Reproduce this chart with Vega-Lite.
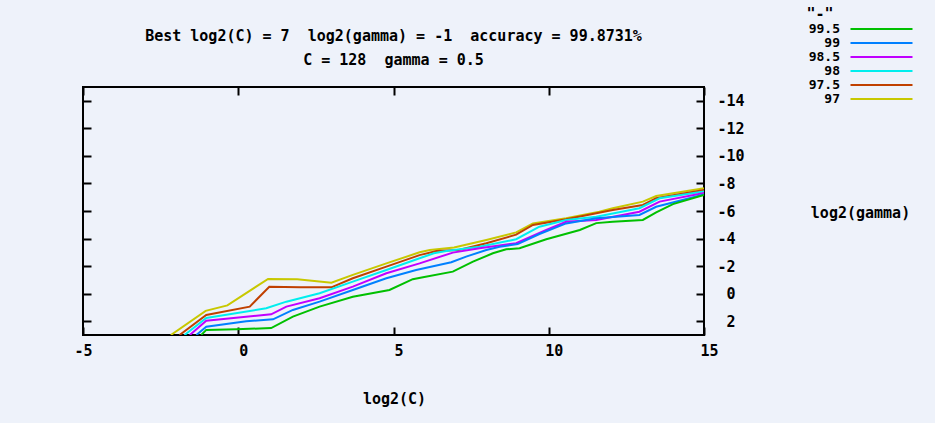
{
  "$schema": "https://vega.github.io/schema/vega-lite/v6.json",
  "width": 621,
  "height": 248,
  "autosize": {"type": "none"},
  "padding": {"left": 83, "top": 87, "right": 231, "bottom": 88},
  "background": "#eef2fa",
  "config": {
    "view": {"stroke": "#000000", "strokeWidth": 2},
    "font": "DejaVu Sans Mono"
  },
  "title": {
    "text": ["Best log2(C) = 7 \u00a0log2(gamma) = -1 \u00a0accuracy = 99.8731%", "C = 128 \u00a0gamma = 0.5"],
    "font": "DejaVu Sans Mono",
    "fontSize": 15,
    "fontWeight": "bold",
    "color": "#000000",
    "anchor": "middle",
    "lineHeight": 24,
    "offset": 20,
    "dy": 81.5
  },
  "data": {
    "values": [
      {"level": "97", "log2C": -2.17, "log2gamma": 3},
      {"level": "97", "log2C": -1.05, "log2gamma": 1.25},
      {"level": "97", "log2C": -0.35, "log2gamma": 0.85},
      {"level": "97", "log2C": 0.96, "log2gamma": -1.07},
      {"level": "97", "log2C": 1.9, "log2gamma": -1.05},
      {"level": "97", "log2C": 3.0, "log2gamma": -0.8},
      {"level": "97", "log2C": 3.69, "log2gamma": -1.36},
      {"level": "97", "log2C": 4.77, "log2gamma": -2.2},
      {"level": "97", "log2C": 5.84, "log2gamma": -3.0},
      {"level": "97", "log2C": 6.17, "log2gamma": -3.17},
      {"level": "97", "log2C": 6.95, "log2gamma": -3.35},
      {"level": "97", "log2C": 7.99, "log2gamma": -3.9},
      {"level": "97", "log2C": 8.95, "log2gamma": -4.45},
      {"level": "97", "log2C": 9.49, "log2gamma": -5.1},
      {"level": "97", "log2C": 10.56, "log2gamma": -5.47},
      {"level": "97", "log2C": 11.63, "log2gamma": -5.95},
      {"level": "97", "log2C": 12.06, "log2gamma": -6.2},
      {"level": "97", "log2C": 13.03, "log2gamma": -6.68},
      {"level": "97", "log2C": 13.46, "log2gamma": -7.09},
      {"level": "97", "log2C": 15, "log2gamma": -7.65},

      {"level": "97.5", "log2C": -1.89, "log2gamma": 3},
      {"level": "97.5", "log2C": -1.03, "log2gamma": 1.55},
      {"level": "97.5", "log2C": 0.37, "log2gamma": 0.94},
      {"level": "97.5", "log2C": 1.0, "log2gamma": -0.5},
      {"level": "97.5", "log2C": 2.0, "log2gamma": -0.46},
      {"level": "97.5", "log2C": 3.0, "log2gamma": -0.46},
      {"level": "97.5", "log2C": 3.69, "log2gamma": -1.12},
      {"level": "97.5", "log2C": 4.77, "log2gamma": -1.96},
      {"level": "97.5", "log2C": 5.84, "log2gamma": -2.8},
      {"level": "97.5", "log2C": 6.38, "log2gamma": -3.1},
      {"level": "97.5", "log2C": 7.1, "log2gamma": -3.17},
      {"level": "97.5", "log2C": 7.99, "log2gamma": -3.66},
      {"level": "97.5", "log2C": 8.95, "log2gamma": -4.28},
      {"level": "97.5", "log2C": 9.49, "log2gamma": -4.99},
      {"level": "97.5", "log2C": 10.56, "log2gamma": -5.4},
      {"level": "97.5", "log2C": 12.06, "log2gamma": -6.07},
      {"level": "97.5", "log2C": 13.03, "log2gamma": -6.44},
      {"level": "97.5", "log2C": 13.46, "log2gamma": -6.92},
      {"level": "97.5", "log2C": 15, "log2gamma": -7.53},

      {"level": "98", "log2C": -1.73, "log2gamma": 3},
      {"level": "98", "log2C": -1.03, "log2gamma": 1.76},
      {"level": "98", "log2C": 0.9, "log2gamma": 1.06},
      {"level": "98", "log2C": 1.55, "log2gamma": 0.58},
      {"level": "98", "log2C": 2.62, "log2gamma": -0.03},
      {"level": "98", "log2C": 3.69, "log2gamma": -0.87},
      {"level": "98", "log2C": 4.77, "log2gamma": -1.72},
      {"level": "98", "log2C": 5.84, "log2gamma": -2.57},
      {"level": "98", "log2C": 6.3, "log2gamma": -2.93},
      {"level": "98", "log2C": 6.7, "log2gamma": -3.1},
      {"level": "98", "log2C": 7.77, "log2gamma": -3.41},
      {"level": "98", "log2C": 8.95, "log2gamma": -3.95},
      {"level": "98", "log2C": 9.7, "log2gamma": -4.86},
      {"level": "98", "log2C": 10.56, "log2gamma": -5.35},
      {"level": "98", "log2C": 11.53, "log2gamma": -5.59},
      {"level": "98", "log2C": 12.92, "log2gamma": -6.2},
      {"level": "98", "log2C": 13.57, "log2gamma": -6.92},
      {"level": "98", "log2C": 15, "log2gamma": -7.42},

      {"level": "98.5", "log2C": -1.56, "log2gamma": 3},
      {"level": "98.5", "log2C": -1.03, "log2gamma": 1.96},
      {"level": "98.5", "log2C": 1.06, "log2gamma": 1.5},
      {"level": "98.5", "log2C": 1.55, "log2gamma": 0.94},
      {"level": "98.5", "log2C": 2.62, "log2gamma": 0.33},
      {"level": "98.5", "log2C": 3.69, "log2gamma": -0.51},
      {"level": "98.5", "log2C": 4.77, "log2gamma": -1.48},
      {"level": "98.5", "log2C": 5.84, "log2gamma": -2.2},
      {"level": "98.5", "log2C": 6.91, "log2gamma": -2.98},
      {"level": "98.5", "log2C": 7.77, "log2gamma": -3.3},
      {"level": "98.5", "log2C": 8.95, "log2gamma": -3.66},
      {"level": "98.5", "log2C": 9.92, "log2gamma": -4.62},
      {"level": "98.5", "log2C": 10.56, "log2gamma": -5.22},
      {"level": "98.5", "log2C": 11.53, "log2gamma": -5.35},
      {"level": "98.5", "log2C": 12.92, "log2gamma": -5.95},
      {"level": "98.5", "log2C": 13.57, "log2gamma": -6.68},
      {"level": "98.5", "log2C": 15, "log2gamma": -7.3},

      {"level": "99", "log2C": -1.35, "log2gamma": 3},
      {"level": "99", "log2C": -1.03, "log2gamma": 2.4},
      {"level": "99", "log2C": 0.26, "log2gamma": 2.0},
      {"level": "99", "log2C": 1.12, "log2gamma": 1.86},
      {"level": "99", "log2C": 1.76, "log2gamma": 1.18},
      {"level": "99", "log2C": 2.62, "log2gamma": 0.58},
      {"level": "99", "log2C": 3.69, "log2gamma": -0.27},
      {"level": "99", "log2C": 4.77, "log2gamma": -1.12},
      {"level": "99", "log2C": 5.73, "log2gamma": -1.72},
      {"level": "99", "log2C": 6.86, "log2gamma": -2.28},
      {"level": "99", "log2C": 7.34, "log2gamma": -2.69},
      {"level": "99", "log2C": 7.99, "log2gamma": -3.17},
      {"level": "99", "log2C": 8.42, "log2gamma": -3.41},
      {"level": "99", "log2C": 9.0, "log2gamma": -3.6},
      {"level": "99", "log2C": 9.7, "log2gamma": -4.33},
      {"level": "99", "log2C": 10.56, "log2gamma": -5.1},
      {"level": "99", "log2C": 11.53, "log2gamma": -5.47},
      {"level": "99", "log2C": 12.92, "log2gamma": -5.71},
      {"level": "99", "log2C": 13.46, "log2gamma": -6.31},
      {"level": "99", "log2C": 15, "log2gamma": -7.2},

      {"level": "99.5", "log2C": -1.19, "log2gamma": 3},
      {"level": "99.5", "log2C": -1.03, "log2gamma": 2.63},
      {"level": "99.5", "log2C": -0.06, "log2gamma": 2.58},
      {"level": "99.5", "log2C": 1.06, "log2gamma": 2.5},
      {"level": "99.5", "log2C": 1.76, "log2gamma": 1.67},
      {"level": "99.5", "log2C": 2.62, "log2gamma": 0.94},
      {"level": "99.5", "log2C": 3.69, "log2gamma": 0.22},
      {"level": "99.5", "log2C": 4.87, "log2gamma": -0.27},
      {"level": "99.5", "log2C": 5.62, "log2gamma": -1.05},
      {"level": "99.5", "log2C": 5.95, "log2gamma": -1.19},
      {"level": "99.5", "log2C": 6.91, "log2gamma": -1.6},
      {"level": "99.5", "log2C": 7.56, "log2gamma": -2.32},
      {"level": "99.5", "log2C": 8.2, "log2gamma": -2.93},
      {"level": "99.5", "log2C": 8.63, "log2gamma": -3.22},
      {"level": "99.5", "log2C": 9.06, "log2gamma": -3.3},
      {"level": "99.5", "log2C": 9.92, "log2gamma": -3.95},
      {"level": "99.5", "log2C": 11.0, "log2gamma": -4.62},
      {"level": "99.5", "log2C": 11.53, "log2gamma": -5.12},
      {"level": "99.5", "log2C": 12.06, "log2gamma": -5.22},
      {"level": "99.5", "log2C": 13.03, "log2gamma": -5.35},
      {"level": "99.5", "log2C": 13.46, "log2gamma": -5.9},
      {"level": "99.5", "log2C": 14.0, "log2gamma": -6.5},
      {"level": "99.5", "log2C": 15, "log2gamma": -7.16}
    ]
  },
  "layer": [
    {
      "mark": {"type": "line", "strokeWidth": 2, "clip": true},
      "encoding": {
        "x": {
          "field": "log2C",
          "type": "quantitative",
          "scale": {"domain": [-5, 15], "nice": false, "zero": false},
          "axis": {
            "orient": "bottom",
            "values": [-5, 0, 5, 10, 15],
            "tickSize": -8,
            "tickWidth": 2,
            "tickColor": "#000000",
            "domain": false,
            "grid": false,
            "labelExpr": "(datum.value < 0 ? '-' : '') + abs(datum.value)",
            "labelFont": "DejaVu Sans Mono",
            "labelFontWeight": "bold",
            "labelFontSize": 15,
            "labelColor": "#000000",
            "labelPadding": 16,
            "labelOffset": {"condition": {"test": "datum.value >= 0", "value": 5}, "value": 0},
            "labelFlush": false,
            "labelOverlap": false,
            "title": "log2(C)",
            "titleFont": "DejaVu Sans Mono",
            "titleFontSize": 15,
            "titleFontWeight": "bold",
            "titleColor": "#000000",
            "titleX": 311,
            "titleY": 63,
            "titleAlign": "center",
            "titleBaseline": "middle"
          }
        },
        "y": {
          "field": "log2gamma",
          "type": "quantitative",
          "scale": {"domain": [-15, 3], "reverse": true, "nice": false, "zero": false},
          "axis": {
            "orient": "right",
            "values": [-14, -12, -10, -8, -6, -4, -2, 0, 2],
            "tickSize": -8,
            "tickWidth": 2,
            "tickColor": "#000000",
            "domain": false,
            "grid": false,
            "labelExpr": "(datum.value < 0 ? '-' : '') + abs(datum.value)",
            "labelFont": "DejaVu Sans Mono",
            "labelFontWeight": "bold",
            "labelFontSize": 15,
            "labelColor": "#000000",
            "labelAlign": "left",
            "labelBaseline": "middle",
            "labelPadding": {"condition": {"test": "datum.value >= 0", "value": 30}, "value": 21},
            "labelFlush": false,
            "labelOverlap": false,
            "title": "log2(gamma)",
            "titleFont": "DejaVu Sans Mono",
            "titleFontSize": 15,
            "titleFontWeight": "bold",
            "titleColor": "#000000",
            "titleAngle": 0,
            "titleX": 156,
            "titleY": 125,
            "titleAlign": "center",
            "titleBaseline": "middle"
          }
        },
        "color": {
          "field": "level",
          "type": "nominal",
          "scale": {
            "domain": ["99.5", "99", "98.5", "98", "97.5", "97"],
            "range": ["#00c000", "#0080ff", "#c000ff", "#00eeee", "#c04000", "#c8c800"]
          },
          "legend": {
            "orient": "none",
            "legendX": 723.5,
            "legendY": -80.5,
            "padding": 0,
            "title": "\"-\"",
            "titleFont": "DejaVu Sans Mono",
            "titleFontSize": 15,
            "titleFontWeight": "bold",
            "titleColor": "#000000",
            "titleAnchor": "start",
            "titlePadding": 1,
            "symbolType": "M-6.2,0H6.2",
            "symbolSize": 100,
            "symbolStrokeWidth": 2,
            "symbolOffset": 68.5,
            "labelAlign": "right",
            "labelOffset": -48,
            "labelFont": "DejaVu Sans Mono",
            "labelFontSize": 13,
            "labelFontWeight": "bold",
            "labelColor": "#000000",
            "rowPadding": 0
          }
        }
      }
    },
    {
      "mark": {"type": "point", "opacity": 0},
      "encoding": {
        "x": {
          "field": "log2C",
          "type": "quantitative",
          "axis": {
            "orient": "top",
            "values": [-5, 0, 5, 10, 15],
            "tickSize": -8,
            "tickWidth": 2,
            "tickColor": "#000000",
            "domain": false,
            "grid": false,
            "labels": false,
            "title": null
          }
        },
        "y": {
          "field": "log2gamma",
          "type": "quantitative",
          "axis": {
            "orient": "left",
            "values": [-14, -12, -10, -8, -6, -4, -2, 0, 2],
            "tickSize": -8,
            "tickWidth": 2,
            "tickColor": "#000000",
            "domain": false,
            "grid": false,
            "labels": false,
            "title": null
          }
        }
      }
    }
  ],
  "resolve": {"axis": {"x": "independent", "y": "independent"}}
}
